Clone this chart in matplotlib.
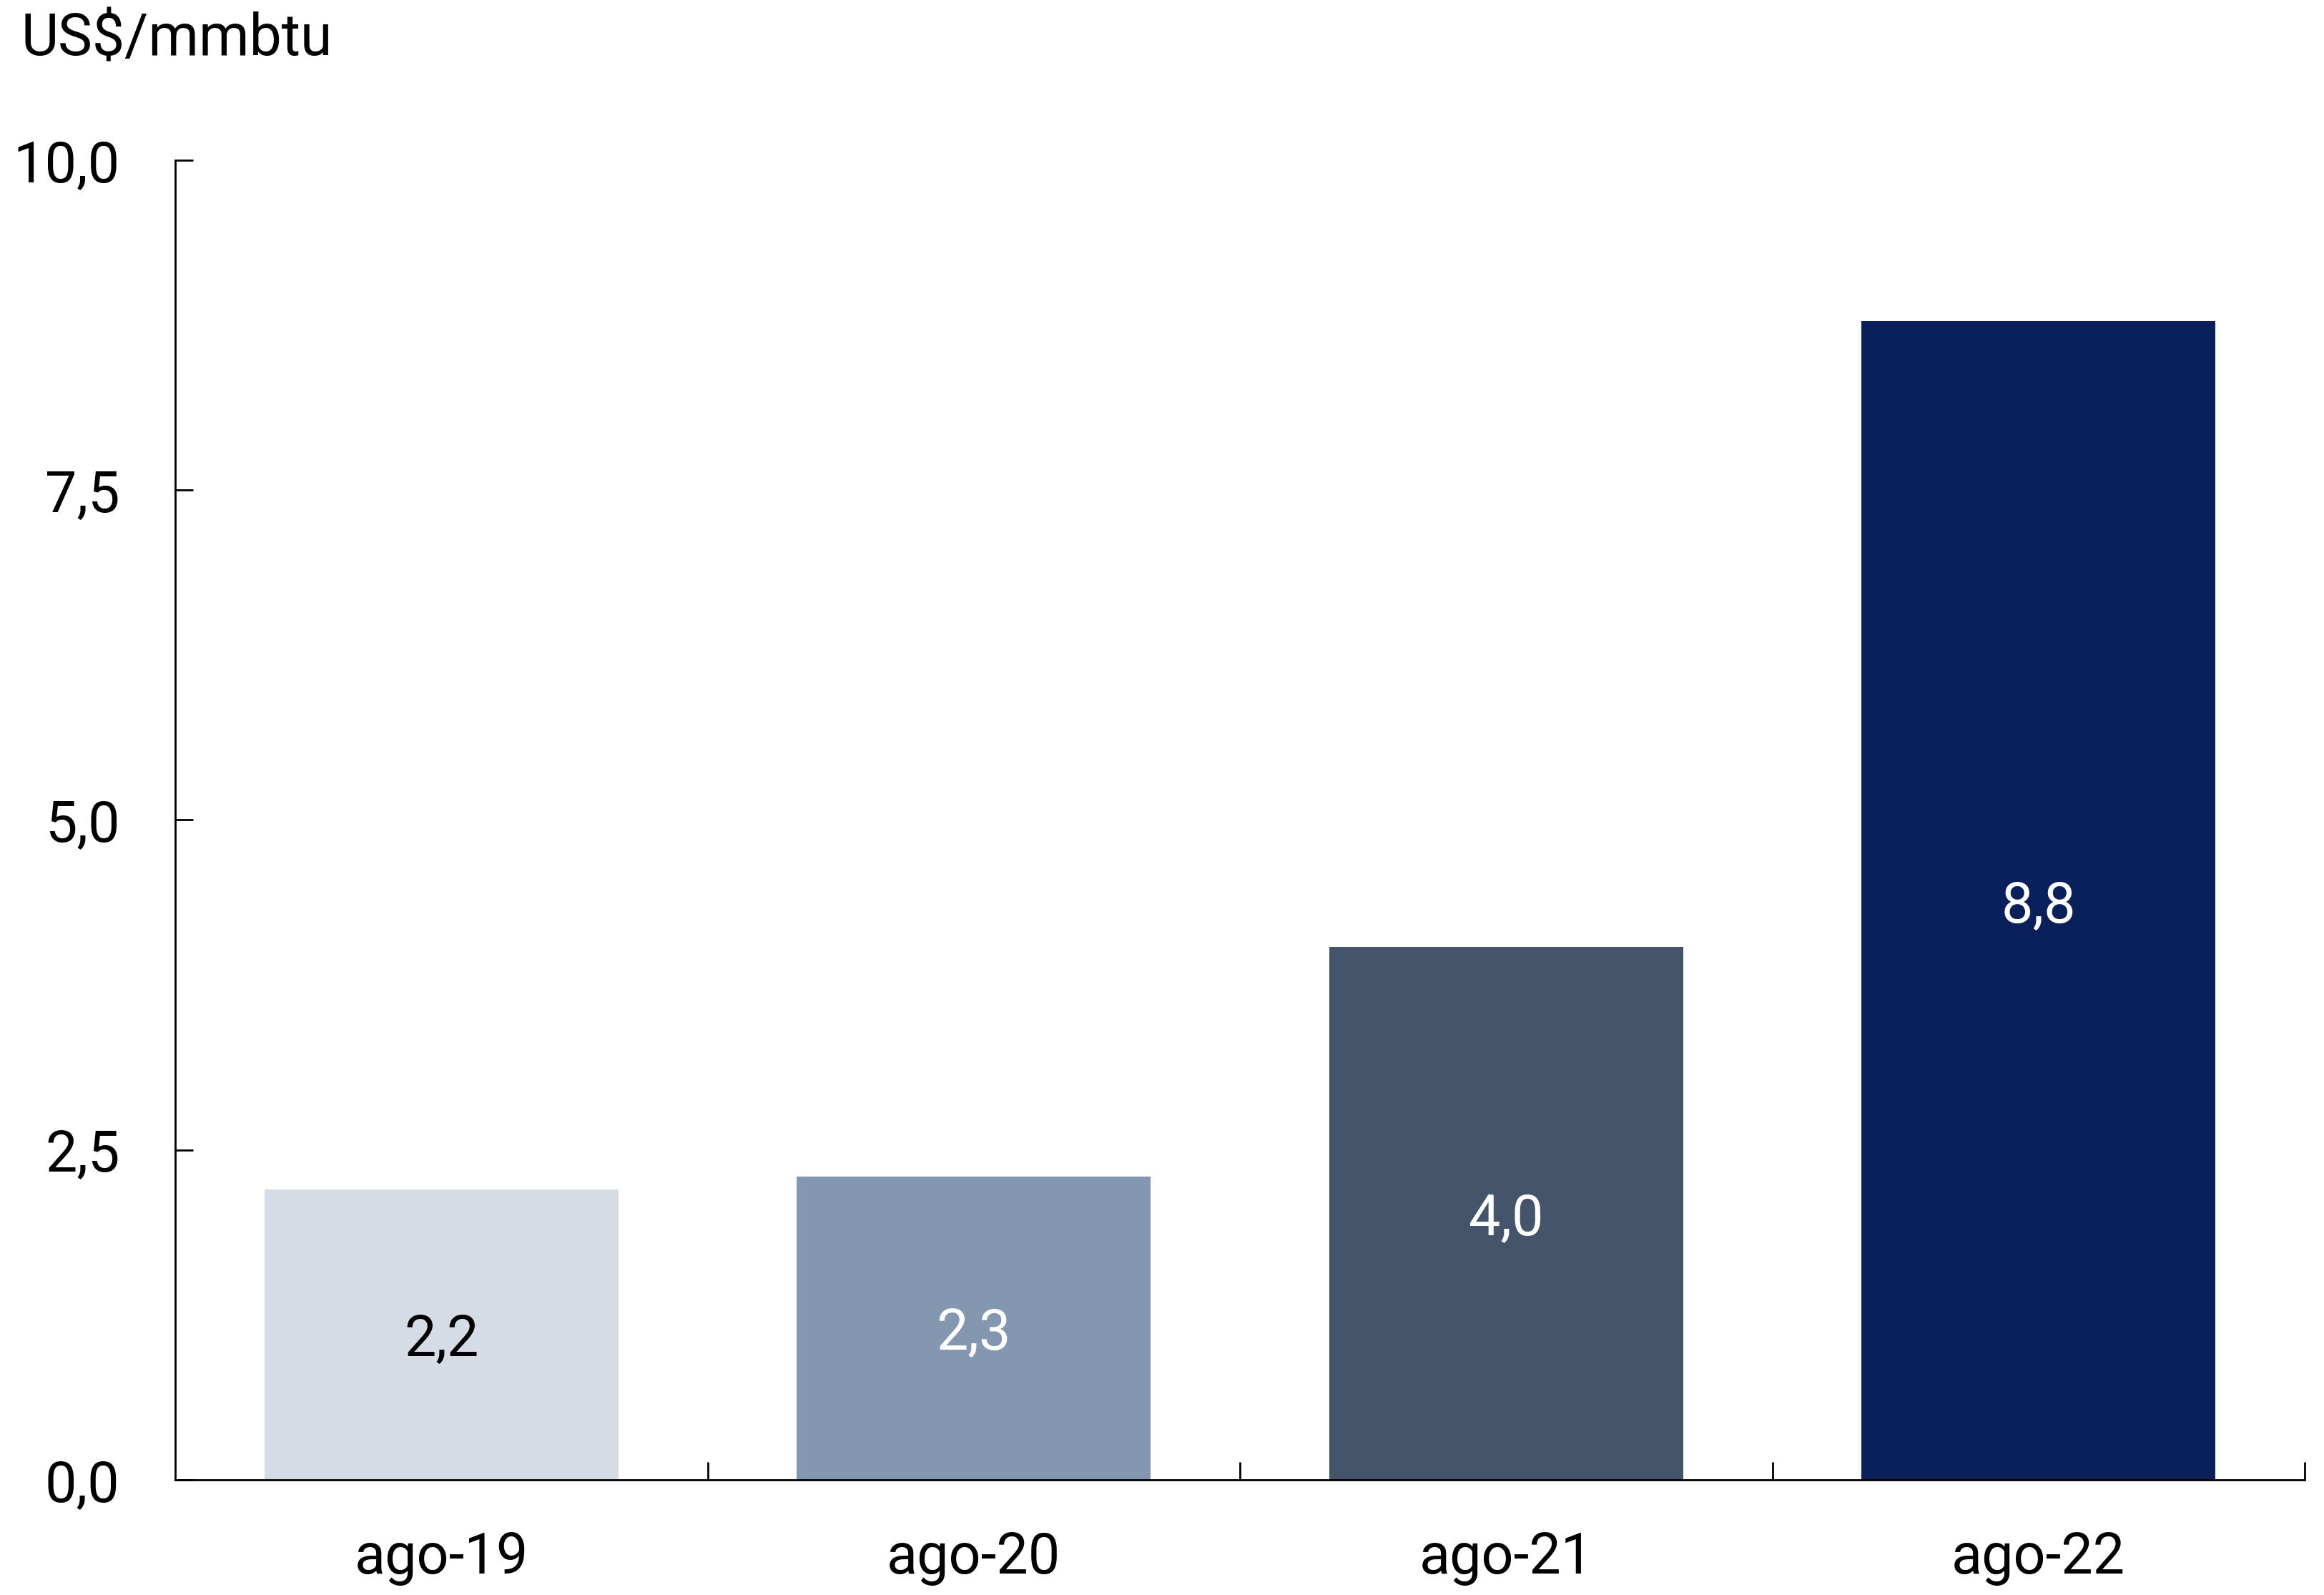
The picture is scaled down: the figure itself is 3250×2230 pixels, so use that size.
import numpy as np
import matplotlib
matplotlib.use("Agg")
import matplotlib.pyplot as plt
from matplotlib.ticker import FuncFormatter

plt.rcParams["font.family"] = ["Roboto", "DejaVu Sans"]

categories = ["ago-19", "ago-20", "ago-21", "ago-22"]
values = [2.2, 2.3, 4.04, 8.78]
labels = ["2,2", "2,3", "4,0", "8,8"]
colors = ["#D6DCE5", "#8497B0", "#44546A", "#0A205A"]
label_colors = ["black", "white", "white", "white"]

fig = plt.figure(figsize=(16.25, 11.15), dpi=200)
ax = fig.add_axes([0.0754, 0.0722, 0.9163, 0.8274])

x = np.arange(len(categories))
ax.bar(x, values, width=0.665, color=colors, zorder=2)
for xi, v, lab, c in zip(x, values, labels, label_colors):
    ax.text(xi, v / 2, lab, ha="center", va="center_baseline", fontsize=28.5, color=c)

ax.set_xlim(-0.5, len(categories) - 0.5)
ax.set_ylim(0, 10)
ax.set_yticks([0, 2.5, 5, 7.5, 10])
ax.yaxis.set_major_formatter(FuncFormatter(lambda v, p: f"{v:.1f}".replace(".", ",")))

# ticks on category boundaries, labels at the centers
ax.set_xticks(np.arange(len(categories)) + 0.5)
ax.set_xticklabels([])
ax.set_xticks(x, minor=True)
ax.set_xticklabels(categories, minor=True)
ax.tick_params(axis="x", which="major", direction="in", length=9, width=1.0)
ax.tick_params(axis="x", which="minor", length=0, pad=26, labelsize=28.5)
ax.tick_params(axis="y", direction="in", length=9, width=1.0, pad=28, labelsize=28.5)

for s in ["top", "right"]:
    ax.spines[s].set_visible(False)
for s in ["left", "bottom"]:
    ax.spines[s].set_linewidth(1.0)

fig.text(0.009, 0.975, "US$/mmbtu", ha="left", va="center", fontsize=29)

fig.savefig("out.png", dpi=200, facecolor="white")
